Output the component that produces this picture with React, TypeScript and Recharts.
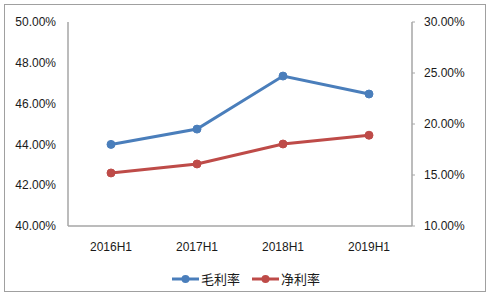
import { Legend, Line, LineChart, XAxis, YAxis } from "recharts";

const periods = ["2016H1", "2017H1", "2018H1", "2019H1"];
const grossMargin = [0.44, 0.4475, 0.4735, 0.4647];
const netMargin = [0.152, 0.1608, 0.1804, 0.189];
const leftTicks = [0.4, 0.42, 0.44, 0.46, 0.48, 0.5];
const rightTicks = [0.1, 0.15, 0.2, 0.25, 0.3];

const seriesNames = { gross: "毛利率", net: "净利率" };
const legendOrder = [seriesNames.gross, seriesNames.net];
const BLUE = "#4a7ebb";
const RED = "#be4b48";
const AXIS = "#a6a6a6";
const TEXT = "#1a1a1a";
const tickFont = "'Liberation Sans', Arial, sans-serif";

const data = periods.map((p, i) => ({
  period: p,
  gross: grossMargin[i],
  net: netMargin[i],
}));

const pct = (v: number) => `${(v * 100).toFixed(2)}%`;

function LegendContent({ payload }: { payload?: { value: string; color: string }[] }) {
  const items = [...(payload ?? [])].sort(
    (a, b) => legendOrder.indexOf(a.value) - legendOrder.indexOf(b.value)
  );
  return (
    <div
      style={{
        display: "flex",
        justifyContent: "center",
        alignItems: "center",
        gap: 12,
        height: 24,
      }}
    >
      {items.map((entry) => (
        <span key={entry.value} style={{ display: "flex", alignItems: "center", gap: 2 }}>
          <svg width={27} height={10}>
            <line x1={0} y1={5} x2={27} y2={5} stroke={entry.color} strokeWidth={3} />
            <circle cx={13.5} cy={5} r={4} fill={entry.color} />
          </svg>
          <span
            style={{
              fontFamily: "'Noto Sans CJK SC', sans-serif",
              fontSize: 13,
              color: TEXT,
              lineHeight: "16px",
            }}
          >
            {entry.value}
          </span>
        </span>
      ))}
    </div>
  );
}

export default function App() {
  return (
    <div style={{ position: "absolute", left: 0, top: 0, width: 492, height: 297, background: "#fff" }}>
      <div
        style={{
          position: "absolute",
          left: 4,
          top: 4,
          width: 480,
          height: 286,
          border: "1px solid #a0a0a0",
        }}
      />
      <LineChart
        width={492}
        height={297}
        data={data}
        margin={{ top: 22, right: 8, bottom: 6, left: 8 }}
        style={{ position: "absolute", left: 0, top: 0 }}
      >
        <XAxis
          dataKey="period"
          height={41}
          padding={{ left: 43, right: 43 }}
          tickLine={false}
          tickSize={0}
          tickMargin={16}
          axisLine={{ stroke: AXIS, strokeWidth: 1.5 }}
          tick={{ fill: TEXT, fontSize: 12, fontFamily: tickFont }}
        />
        <YAxis
          yAxisId="left"
          width={60}
          domain={[0.4, 0.5]}
          ticks={leftTicks}
          tickFormatter={pct}
          tickLine={false}
          tickSize={0}
          tickMargin={12}
          axisLine={{ stroke: AXIS, strokeWidth: 1.5 }}
          tick={{ fill: TEXT, fontSize: 12, fontFamily: tickFont }}
        />
        <YAxis
          yAxisId="right"
          orientation="right"
          width={72}
          domain={[0.1, 0.3]}
          ticks={rightTicks}
          tickFormatter={pct}
          tickLine={{ stroke: AXIS }}
          tickSize={3}
          tickMargin={9}
          axisLine={{ stroke: AXIS, strokeWidth: 1.5 }}
          tick={{ fill: TEXT, fontSize: 12, fontFamily: tickFont }}
        />
        <Legend verticalAlign="bottom" content={<LegendContent />} />
        <Line
          yAxisId="left"
          dataKey="gross"
          name={seriesNames.gross}
          stroke={BLUE}
          strokeWidth={3}
          dot={{ r: 4, fill: BLUE, stroke: BLUE, strokeWidth: 1 }}
          isAnimationActive={false}
        />
        <Line
          yAxisId="right"
          dataKey="net"
          name={seriesNames.net}
          stroke={RED}
          strokeWidth={3}
          dot={{ r: 4, fill: RED, stroke: RED, strokeWidth: 1 }}
          isAnimationActive={false}
        />
      </LineChart>
    </div>
  );
}
